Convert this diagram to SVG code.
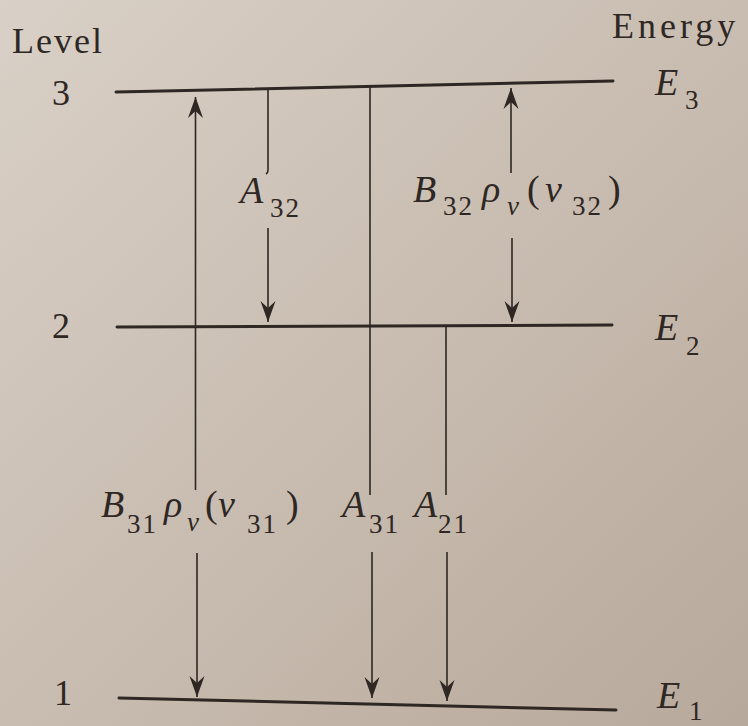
<svg xmlns="http://www.w3.org/2000/svg" width="748" height="726" viewBox="0 0 748 726" font-family="'Liberation Serif', 'Times New Roman', serif">
<defs>
<linearGradient id="paper" x1="0" y1="0" x2="1" y2="1">
<stop offset="0" stop-color="#d9d0c7"/>
<stop offset="0.5" stop-color="#c9bdb1"/>
<stop offset="1" stop-color="#b7a99b"/>
</linearGradient>
<marker id="ah" markerUnits="userSpaceOnUse" viewBox="-22 -9 24 18" refX="0" refY="0" markerWidth="24" markerHeight="18" orient="auto">
<path d="M0,0 L-21,-7.5 L-14,0 L-21,7.5 Z" fill="#2e2723"/>
</marker>
<style>
.lvl{stroke:#2e2723;stroke-width:3;fill:none;stroke-linecap:round}
.tr{stroke:#2e2723;stroke-width:1.6;fill:none}
.arr{marker-end:url(#ah)}
text{font-family:'Liberation Serif','Times New Roman',serif;fill:#2e2723}
.m{font-size:38px;font-style:italic}
.s{font-size:27px;letter-spacing:2px}
.r{font-size:36px}
.p{font-size:38px}
</style>
</defs>
<rect width="748" height="726" fill="url(#paper)"/>

<g id="headers">
<text class="r" x="12" y="53" letter-spacing="2">Level</text>
<text class="r" x="612" y="38" letter-spacing="4">Energy</text>
</g>

<g id="level3">
<line class="lvl" x1="116" y1="92" x2="613" y2="81"/>
<text class="r" x="52" y="105">3</text>
<text class="m" x="655" y="95">E</text><text class="s" x="685" y="109">3</text>
</g>
<g id="level2">
<line class="lvl" x1="117" y1="327" x2="612" y2="325"/>
<text class="r" x="52" y="338">2</text>
<text class="m" x="655" y="340">E</text><text class="s" x="686" y="355">2</text>
</g>
<g id="level1">
<line class="lvl" x1="119" y1="698" x2="616" y2="710"/>
<text class="r" x="54" y="705">1</text>
<text class="m" x="657" y="708">E</text><text class="s" x="689" y="720">1</text>
</g>

<g id="connectors">
<line class="tr arr" x1="195.5" y1="490" x2="195.5" y2="97"/>
<line class="tr arr" x1="197" y1="553" x2="197" y2="697"/>
<path class="tr" d="M268,89 L268,170 q0,3 -2,4"/>
<line class="tr arr" x1="268" y1="228" x2="268" y2="322"/>
<line class="tr" x1="370" y1="87" x2="370" y2="495"/>
<line class="tr arr" x1="372" y1="552" x2="372" y2="698"/>
<line class="tr arr" x1="511" y1="173" x2="511" y2="88"/>
<line class="tr arr" x1="512" y1="238" x2="512" y2="322"/>
<line class="tr" x1="446" y1="326" x2="446" y2="495"/>
<line class="tr arr" x1="447" y1="552" x2="447" y2="701"/>
</g>

<g id="label-A32">
<text class="m" x="240" y="203">A</text><text class="s" x="270" y="217">32</text>
</g>
<g id="label-B32">
<text class="m" x="413" y="202">B</text><text class="s" x="443" y="215">32</text>
<text class="m" x="482" y="202">ρ</text><text class="s" x="507" y="215" font-style="italic">ν</text>
<text class="p" x="527" y="202">(</text><text class="m" x="545" y="202">ν</text>
<text class="s" x="572" y="215">32</text><text class="p" x="608" y="202">)</text>
</g>
<g id="label-B31">
<text class="m" x="101" y="517">B</text><text class="s" x="127" y="533">31</text>
<text class="m" x="164" y="517">ρ</text><text class="s" x="187" y="531" font-style="italic">ν</text>
<text class="p" x="205" y="517">(</text><text class="m" x="218" y="517">ν</text>
<text class="s" x="247" y="533">31</text><text class="p" x="286" y="517">)</text>
</g>
<g id="label-A31">
<text class="m" x="342" y="517">A</text><text class="s" x="369" y="533">31</text>
</g>
<g id="label-A21">
<text class="m" x="414" y="517">A</text><text class="s" x="438" y="533">21</text>
</g>
</svg>
